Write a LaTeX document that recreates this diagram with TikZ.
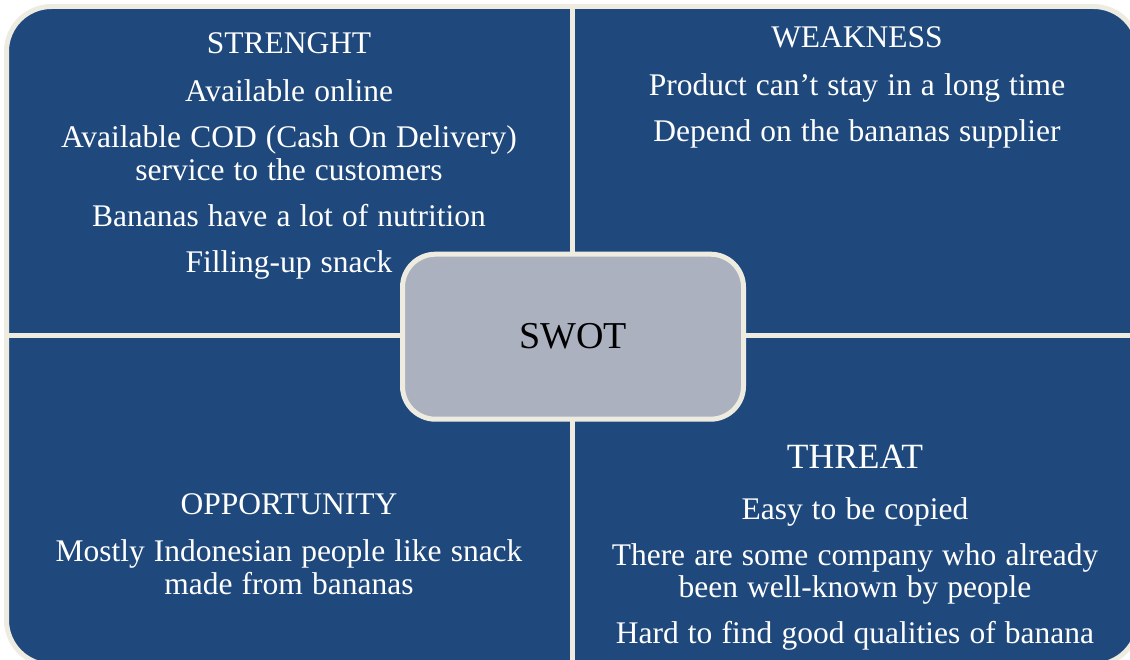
\documentclass[tikz,border=0pt]{standalone}
\usepackage{fontspec}
\setmainfont{Liberation Serif}
\usetikzlibrary{positioning}

\definecolor{swotblue}{HTML}{1F497D}
\definecolor{swotcream}{HTML}{EEECE1}
\definecolor{swotgrey}{HTML}{ABB1BF}

\newcommand\bodyfont{\fontsize{31.5}{32.5}\selectfont\spaceskip=0.29em\relax}

\begin{document}
\begin{tikzpicture}[x=1pt,y=-1pt,node distance=25pt,
  frame/.style={draw=swotcream, line width=5pt, fill=swotblue, rounded corners=45pt,
    inner sep=0pt, outer sep=0pt, minimum width=1132pt, minimum height=658.5pt},
  divider/.style={draw=swotcream, line width=5.5pt},
  swotbox/.style={draw=swotcream, line width=5pt, fill=swotgrey, rounded corners=33pt,
    inner sep=0pt, minimum width=341pt, minimum height=165pt,
    font=\fontsize{38}{40}\selectfont},
  heading/.style={text=white, inner sep=0pt, anchor=base,
    font=\fontsize{31.5}{33}\selectfont},
  body/.style={text=white, inner sep=0pt, align=center, font=\bodyfont}]
\useasboundingbox (0,0) rectangle (1130,660);
\clip (0,0) rectangle (1130,660);

\node[frame] (frame) at (572.5,335.75) {};
\draw[divider] (frame.north) -- (frame.south);
\draw[divider] (frame.west) -- (frame.east);

\node[swotbox] (swot) at (573,336.7) {SWOT};

% strength
\node[heading] (s_head) at (289,54) {STRENGHT};
\node[body] (s_body) [below=of s_head] {Available online\\[13.5pt]
  Available COD (Cash On Delivery)\\service to the customers\\[13.5pt]
  Bananas have a lot of nutrition\\[13.5pt]
  Filling-up snack};

% weakness
\node[heading] (w_head) at (857,48) {WEAKNESS};
\node[body] (w_body) [below=of w_head] {Product can’t stay in a long time\\[13.5pt]
  Depend on the bananas supplier};

% opportunity
\node[heading] (o_head) at (289,514) {OPPORTUNITY};
\node[body] (o_body) [below=of o_head] {Mostly Indonesian people like snack\\
  made from bananas};

% threat
\node[heading, font=\fontsize{35.5}{37}\selectfont] (t_head) at (855,468) {THREAT};
\node[body] (t_body) [below=29.5pt of t_head] {Easy to be copied\\[13pt]
  There are some company who already\\been well-known by people\\[13.5pt]
  Hard to find good qualities of banana};
\end{tikzpicture}
\end{document}
